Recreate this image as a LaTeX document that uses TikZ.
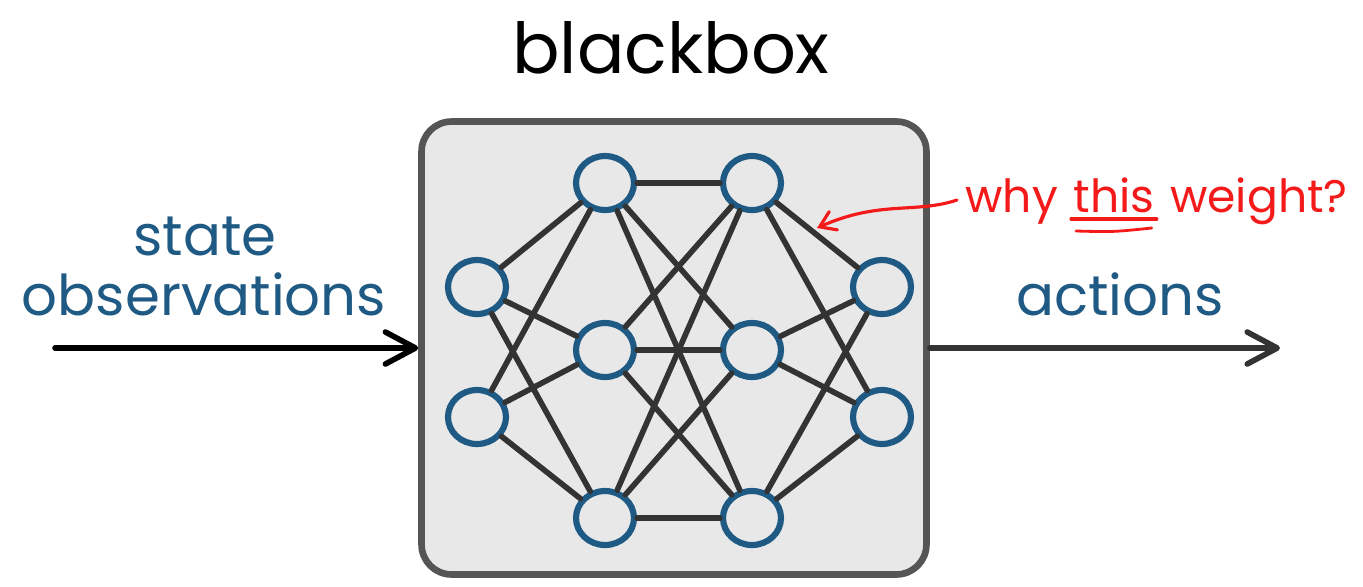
\documentclass[tikz,border=0pt]{standalone}
\usepackage{fontspec}
\setmainfont{Poppins}
\usetikzlibrary{arrows.meta,shapes.geometric,calc}
\definecolor{nnblue}{HTML}{1F5A85}
\definecolor{boxgray}{HTML}{E8E8E8}
\definecolor{wiregray}{HTML}{333333}
\definecolor{framegray}{HTML}{555555}
\definecolor{notered}{HTML}{F41A1A}
\tikzset{
  frame/.style={draw=framegray,fill=boxgray,line width=3.8pt,rounded corners=0.6cm,
    minimum width=10.1cm,minimum height=9.06cm},
  neuron/.style={ellipse,draw=nnblue,fill=boxgray,line width=3.5pt,inner sep=0pt,
    minimum width=1.16cm,minimum height=1.08cm},
  wire/.style={draw=wiregray,line width=3.2pt,line cap=round},
  flow/.style={line width=3.2pt,line cap=round,
    -{Straight Barb[length=0.6cm,width=0.64cm,line cap=round,line join=round]}},
  label/.style={text=nnblue,font=\fontsize{32}{36}\selectfont,inner sep=0pt},
  note/.style={text=notered,font=\fontsize{26}{30}\selectfont,inner sep=0pt,anchor=base west},
}
\begin{document}
\begin{tikzpicture}[x=0.02cm,y=-0.02cm]
\useasboundingbox (0,0) rectangle (1363,586);
\node[frame] (box) at (674,348) {};
\node[font=\fontsize{40}{44}\selectfont,inner sep=0pt,anchor=base] (title) at (671,73) {blackbox};
% network
\node[neuron] (in1) at (477,287) {};
\node[neuron] (in2) at (477,417) {};
\node[neuron] (ha1) at (605,183) {};
\node[neuron] (ha2) at (605,350) {};
\node[neuron] (ha3) at (605,518) {};
\node[neuron] (hb1) at (752,183) {};
\node[neuron] (hb2) at (752,350) {};
\node[neuron] (hb3) at (752,518) {};
\node[neuron] (out1) at (882,287) {};
\node[neuron] (out2) at (882,417) {};
\foreach \i in {1,2}
  \foreach \j in {1,2,3} {
    \draw[wire] (in\i) -- (ha\j);
    \draw[wire] (hb\j) -- (out\i);
  }
\foreach \i in {1,2,3}
  \foreach \j in {1,2,3}
    \draw[wire] (ha\i) -- (hb\j);
% inputs and outputs
\node[label,anchor=base] (state) at (205,255) {state};
\node[label,anchor=base] (obs) at (204,315) {observations};
\node[label,anchor=base] (act) at (1120,315) {actions};
\coordinate (src) at (55,348);
\coordinate (dst) at (1280,348);
\draw[flow,draw=black] (src) -- (box.west);
\draw[flow,draw=wiregray] (box.east) -- (dst);
% question
\node[note] (why) at (965,212) {why};
\node[note] (this) at ($(why.base east)+(15,0)$) {this};
\node[note] (weight) at ($(this.base east)+(15,0)$) {weight?};
\draw[notered,line width=1.9pt,line cap=round] ($(this.base west)+(-2,7)$) -- ($(this.base east)+(2,7)$);
\draw[notered,line width=1.6pt,line cap=round] ($(this.base west)+(3,19)$) .. controls ($(this.base west)+(40,20)$) .. ($(this.base east)+(-3,16)$);
\coordinate (hit) at (817,228);
\draw[notered,line width=1.8pt,line cap=round,-{Straight Barb[length=0.3cm,width=0.4cm,line cap=round]}]
  ($(why.base west)+(-8,-12)$) .. controls (915,214) and (880,200) .. (hit);
\end{tikzpicture}
\end{document}
